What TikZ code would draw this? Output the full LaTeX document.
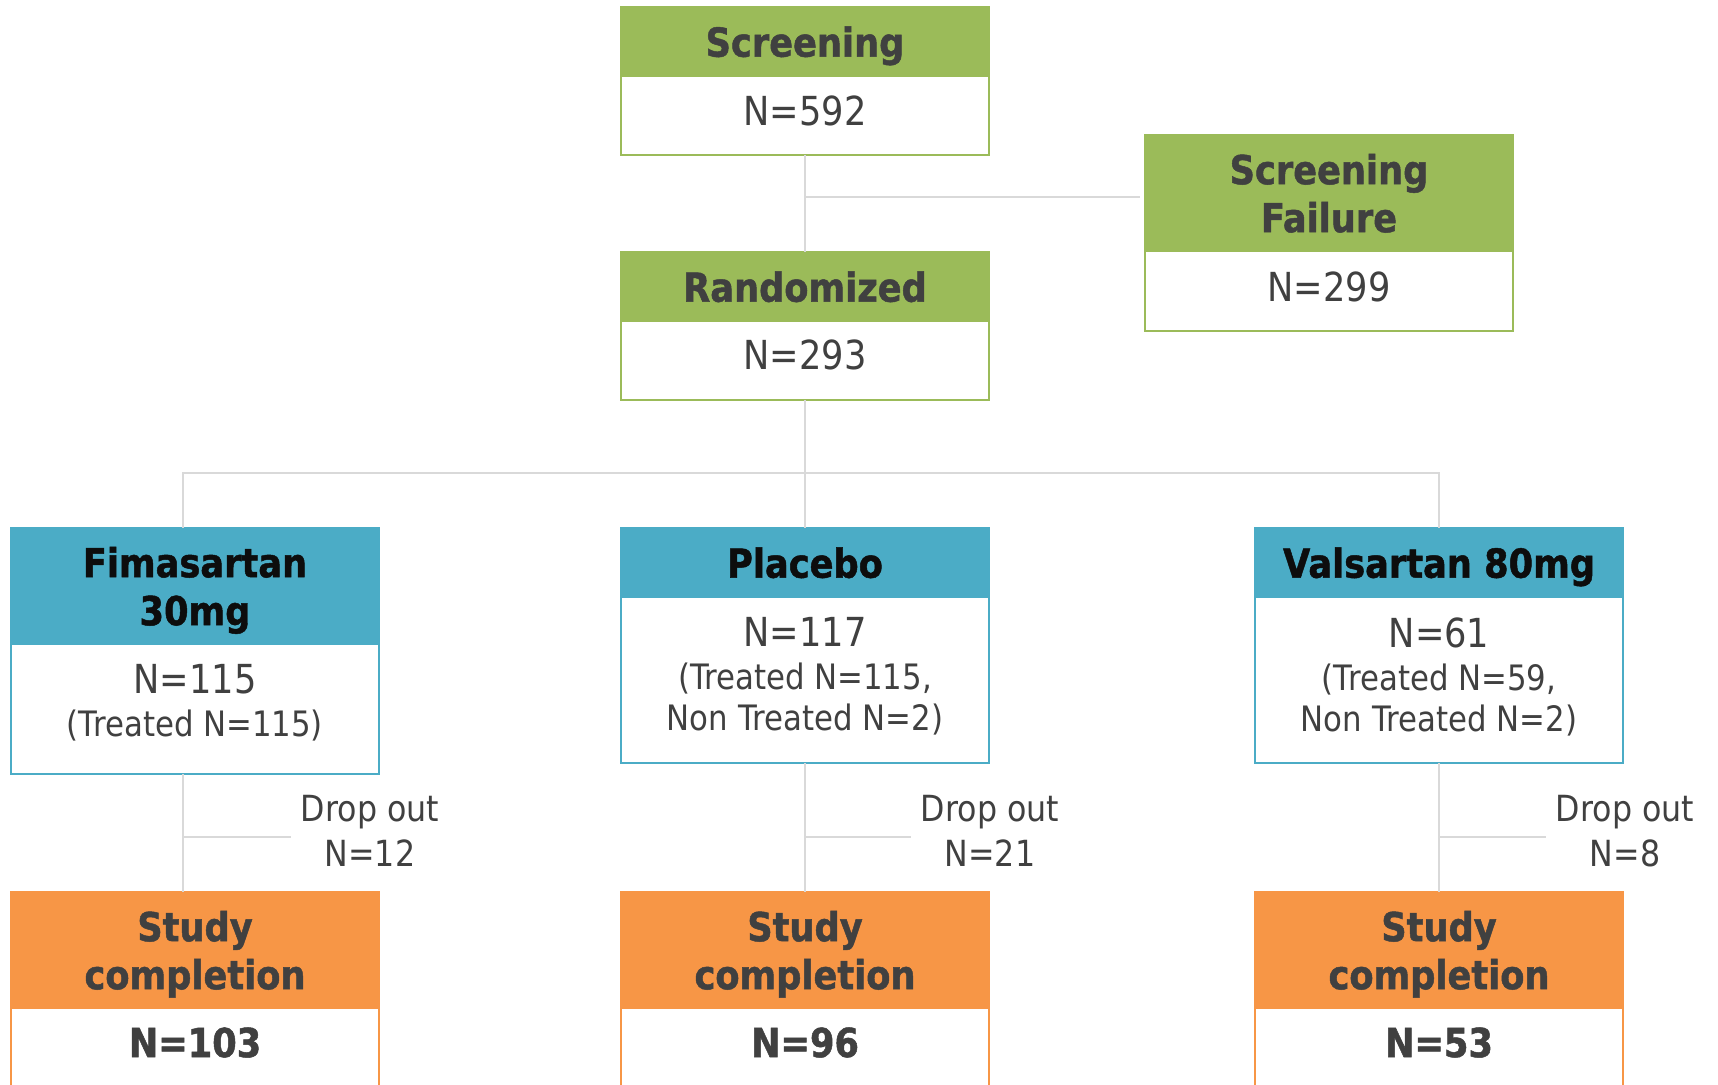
\documentclass[tikz,border=0pt]{standalone}
\usepackage{fontspec}
\setmainfont[FakeStretch=0.88,BoldFeatures={FakeBold=1.2}]{DejaVu Sans}
\usepackage{tikz}
\usetikzlibrary{positioning,calc}
\definecolor{hdgreen}{RGB}{155,187,89}
\definecolor{hdblue}{RGB}{75,172,198}
\definecolor{hdorange}{RGB}{247,150,70}
\definecolor{txtgray}{RGB}{64,64,64}
\definecolor{linegray}{RGB}{217,217,217}
\newcommand{\subfont}{\fontsize{17.5}{21}\selectfont}
\tikzset{
  hdbox/.style={draw=#1,fill=#1,line width=1pt,minimum width=184pt,outer sep=0pt,inner sep=0pt,
    align=center,text depth=0pt,font=\fontsize{20}{24}\selectfont\bfseries,text=txtgray},
  bdbox/.style={draw=#1,fill=white,line width=1pt,minimum width=184pt,outer sep=0pt,inner sep=0pt},
  numtxt/.style={inner sep=0pt,align=center,font=\fontsize{20}{21.5}\selectfont,text=txtgray},
  numbold/.style={numtxt,font=\fontsize{20}{21.5}\selectfont\bfseries},
  droptxt/.style={inner xsep=5pt,inner ysep=0pt,align=center,font=\fontsize{18}{22.5}\selectfont,text=txtgray},
  link/.style={draw=linegray,line width=1pt},
}
\begin{document}
\begin{tikzpicture}[x=0.5pt,y=-0.5pt]
\useasboundingbox (0,0) rectangle (1718,1084);
\fill[white] (0,0) rectangle (1718,1084);
\clip (0,0) rectangle (1718,1084);

% screening and randomisation
\node[hdbox=hdgreen,minimum height=34.5pt,anchor=north] (scrH) at (805,7) {Screening};
\node[bdbox=hdgreen,minimum height=39.5pt,below=0pt of scrH] (scrB) {};
\node[numtxt,below=9.5pt of scrH] (scrN) {N=592};

\node[hdbox=hdgreen,minimum height=58pt,anchor=north] (sfH) at (1329,135) {Screening\\Failure};
\node[bdbox=hdgreen,minimum height=40pt,below=0pt of sfH] (sfB) {};
\node[numtxt,below=10pt of sfH] (sfN) {N=299};

\node[hdbox=hdgreen,minimum height=34.5pt,anchor=north] (rndH) at (805,252) {Randomized};
\node[bdbox=hdgreen,minimum height=39.5pt,below=0pt of rndH] (rndB) {};
\node[numtxt,below=9pt of rndH] (rndN) {N=293};

% treatment arms
\node[hdbox=hdblue,text=black!95,minimum height=58pt,anchor=north] (fimH) at (195,528) {Fimasartan\\30mg};
\node[bdbox=hdblue,minimum height=65pt,below=0pt of fimH] (fimB) {};
\node[numtxt,below=10pt of fimH] (fimN) {N=115\\\subfont(Treated N=115)};

\node[hdbox=hdblue,text=black!95,minimum height=34.5pt,anchor=north] (plH) at (805,528) {Placebo};
\node[bdbox=hdblue,minimum height=83pt,below=0pt of plH] (plB) {};
\node[numtxt,below=10pt of plH] (plN) {N=117\\\subfont(Treated N=115,\\[-1pt]\subfont Non Treated N=2)};

\node[hdbox=hdblue,text=black!95,minimum height=34.5pt,anchor=north] (valH) at (1439,528) {Valsartan 80mg};
\node[bdbox=hdblue,minimum height=83pt,below=0pt of valH] (valB) {};
\node[numtxt,below=10pt of valH] (valN) {N=61\\\subfont(Treated N=59,\\[-1pt]\subfont Non Treated N=2)};

% completion
\node[hdbox=hdorange,minimum height=58pt,anchor=north] (fimS) at (195,892) {Study\\completion};
\node[bdbox=hdorange,minimum height=60pt,below=0pt of fimS] (fimC) {};
\node[numbold,below=9.5pt of fimS] (fimCN) {N=103};

\node[hdbox=hdorange,minimum height=58pt,anchor=north] (plS) at (805,892) {Study\\completion};
\node[bdbox=hdorange,minimum height=60pt,below=0pt of plS] (plC) {};
\node[numbold,below=9.5pt of plS] (plCN) {N=96};

\node[hdbox=hdorange,minimum height=58pt,anchor=north] (valS) at (1439,892) {Study\\completion};
\node[bdbox=hdorange,minimum height=60pt,below=0pt of valS] (valC) {};
\node[numbold,below=9.5pt of valS] (valCN) {N=53};

% drop outs
\node[droptxt] (fimD) at (370,831) {Drop out\\N=12};
\node[droptxt] (plD) at (990,831) {Drop out\\N=21};
\node[droptxt] (valD) at (1625,831) {Drop out\\N=8};

% connectors
\coordinate (brk1) at (805,197);
\coordinate (brk2) at (805,473);
\coordinate (fimL) at (183,473);
\coordinate (fimd) at (183,837);
\coordinate (pld) at (805,837);
\coordinate (vald) at (1439,837);
\draw[link] (scrB) -- (rndH);
\draw[link] (brk1) -- ($(brk1 -| sfH.west)+(-5,0)$);
\draw[link] (rndB) -- (plH);
\draw[link] (fimL |- fimH.north) -- (fimL) -- (brk2 -| valH) -- (valH);
\draw[link] (fimL |- fimB.south) -- (fimL |- fimS.north);
\draw[link] (fimd) -- (fimd -| fimD.west);
\draw[link] (plB) -- (plS);
\draw[link] (pld) -- (pld -| plD.west);
\draw[link] (valB) -- (valS);
\draw[link] (vald) -- (vald -| valD.west);
\end{tikzpicture}
\end{document}
